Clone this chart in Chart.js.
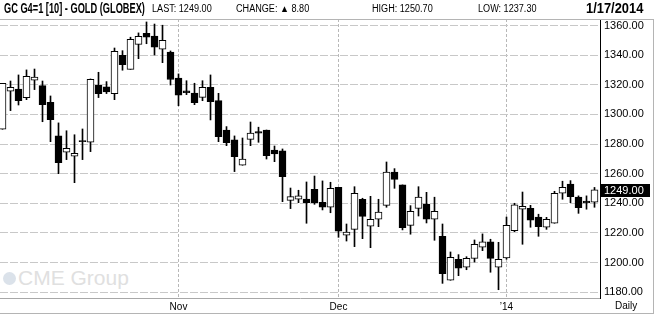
<!DOCTYPE html>
<html><head><meta charset="utf-8">
<script src="https://cdn.jsdelivr.net/npm/chart.js@4.4.1/dist/chart.umd.min.js"></script>
<style>
html,body{margin:0;padding:0;background:#fff;}
#wrap{position:relative;width:654px;height:314px;overflow:hidden;font-family:"Liberation Sans",Arial,sans-serif;background:#fff;}
#c{position:absolute;left:0;top:0;}
.h{position:absolute;top:3px;font-size:10px;line-height:12px;color:#000;white-space:nowrap;transform:scaleX(0.91);transform-origin:0 0;}
.hb{font-weight:bold;font-size:14px;top:1px;line-height:15px;}
.ln{position:absolute;background:#b4b4b4;}
#wm{position:absolute;left:18px;top:266px;font-size:21px;line-height:24px;color:#e0e0e0;white-space:nowrap;}
#logo{position:absolute;left:3px;top:272px;width:13px;height:13px;border-radius:50%;background:#dbe2ea;}
#daily{position:absolute;left:615px;top:300px;font-size:10px;line-height:12px;color:#000;}
</style></head>
<body>
<div id="wrap">
  <div id="logo"></div>
  <div id="wm">CME Group</div>
  <canvas id="c" width="654" height="314"></canvas>
  <div class="h hb" style="left:4px;transform:scaleX(0.66)">GC G4=1 [10] - GOLD (GLOBEX)</div>
  <div class="h" style="left:152px">LAST: 1249.00</div>
  <div class="h" style="left:236px">CHANGE: &#9650; 8.80</div>
  <div class="h" style="left:372px">HIGH: 1250.70</div>
  <div class="h" style="left:478px">LOW: 1237.30</div>
  <div class="h hb" style="left:586px;transform:scaleX(0.92)">1/17/2014</div>
  <div class="ln" style="left:0;top:19px;width:654px;height:1px"></div>
  <div class="ln" style="left:0;top:313px;width:654px;height:1px"></div>
  <div class="ln" style="left:653px;top:19px;width:1px;height:295px"></div>
  <div id="daily">Daily</div>
</div>
<script>
const dates = [
 "2013-10-02","2013-10-03","2013-10-04","2013-10-07","2013-10-08","2013-10-09","2013-10-10","2013-10-11",
 "2013-10-14","2013-10-15","2013-10-16","2013-10-17","2013-10-18","2013-10-21","2013-10-22","2013-10-23",
 "2013-10-24","2013-10-25","2013-10-28","2013-10-29","2013-10-30","2013-10-31",
 "2013-11-01","2013-11-04","2013-11-05","2013-11-06","2013-11-07","2013-11-08","2013-11-11","2013-11-12",
 "2013-11-13","2013-11-14","2013-11-15","2013-11-18","2013-11-19","2013-11-20","2013-11-21","2013-11-22",
 "2013-11-25","2013-11-26","2013-11-27","2013-11-29",
 "2013-12-02","2013-12-03","2013-12-04","2013-12-05","2013-12-06","2013-12-09","2013-12-10","2013-12-11",
 "2013-12-12","2013-12-13","2013-12-16","2013-12-17","2013-12-18","2013-12-19","2013-12-20","2013-12-23",
 "2013-12-24","2013-12-26","2013-12-27","2013-12-30","2013-12-31",
 "2014-01-02","2014-01-03","2014-01-06","2014-01-07","2014-01-08","2014-01-09","2014-01-10","2014-01-13",
 "2014-01-14","2014-01-15","2014-01-16","2014-01-17"
];
const open = [
 1290.0,1315.7,1317.2,1311.4,1323.1,1319.5,1308.2,1285.5,1274.5,1271.8,
 1282.4,1281.2,1319.7,1318.6,1314.1,1340.0,1330.5,1347.4,1354.9,1353.0,
 1344.1,1342.2,1324.5,1315.9,1314.5,1311.6,1318.4,1309.3,1289.5,1282.8,
 1265.7,1283.2,1288.4,1289.5,1276.0,1275.5,1242.0,1242.7,1242.9,1249.5,
 1240.7,1237.3,1250.8,1218.4,1222.4,1242.7,1224.5,1229.2,1238.6,1261.0,
 1252.4,1225.1,1236.6,1239.5,1229.2,1217.7,1188.0,1202.2,1196.8,1202.8,
 1210.3,1213.9,1196.8,1203.0,1221.5,1236.0,1236.6,1230.7,1223.8,1226.5,
 1246.8,1253.0,1244.1,1241.4,1240.7
];
const high = [
 1321.0,1322.6,1326.7,1330.1,1330.7,1322.6,1312.5,1294.3,1289.0,1286.3,
 1290.2,1324.0,1328.5,1322.2,1344.9,1343.1,1352.2,1355.1,1362.5,1361.1,
 1360.3,1342.9,1327.4,1322.8,1321.1,1322.8,1326.7,1314.3,1291.8,1285.5,
 1284.1,1294.9,1291.4,1289.5,1278.7,1276.7,1250.3,1248.8,1254.4,1258.4,
 1255.1,1254.2,1250.8,1226.0,1251.2,1243.4,1244.7,1242.7,1267.9,1263.4,
 1252.4,1238.4,1251.2,1247.4,1244.1,1226.0,1207.1,1205.3,1203.9,1215.2,
 1219.3,1215.7,1213.6,1230.7,1240.0,1247.6,1238.6,1232.6,1230.5,1248.1,
 1254.9,1255.3,1245.0,1245.0,1250.7
];
const low = [
 1290.0,1302.6,1306.4,1310.0,1316.8,1295.1,1281.6,1260.0,1269.5,1253.9,
 1269.5,1274.9,1311.4,1314.1,1310.0,1329.9,1330.5,1337.7,1347.8,1340.2,
 1335.0,1319.9,1305.9,1313.4,1306.6,1309.3,1296.3,1281.6,1278.9,1261.4,
 1265.7,1278.9,1281.2,1269.9,1268.1,1241.1,1236.4,1240.4,1226.5,1239.3,
 1235.5,1233.6,1217.0,1214.5,1210.7,1216.1,1210.0,1224.2,1237.3,1250.1,
 1222.0,1219.1,1231.4,1226.7,1215.0,1185.9,1188.0,1191.1,1195.1,1200.3,
 1208.0,1193.4,1181.6,1202.2,1220.8,1212.3,1223.8,1217.7,1222.4,1226.5,
 1242.7,1240.4,1233.2,1236.0,1237.3
];
const close = [
 1321.0,1318.4,1309.3,1325.8,1325.3,1306.6,1296.5,1267.4,1277.2,1273.8,
 1281.6,1323.8,1314.1,1315.2,1342.7,1333.6,1350.8,1352.8,1352.2,1345.4,
 1350.1,1323.6,1313.0,1314.7,1308.0,1318.4,1308.6,1285.0,1281.0,1271.5,
 1269.9,1287.5,1287.3,1272.2,1273.3,1258.0,1244.5,1245.0,1240.4,1240.4,
 1237.3,1250.1,1221.1,1220.6,1246.8,1231.2,1229.2,1234.1,1261.0,1256.2,
 1223.5,1234.6,1244.1,1229.2,1234.6,1192.4,1203.5,1196.1,1202.8,1212.3,
 1213.9,1202.8,1202.2,1225.1,1238.9,1238.0,1228.5,1224.2,1229.2,1246.8,
 1250.8,1244.5,1237.0,1240.2,1249.0
];
const yTicks = [1180,1190,1200,1210,1220,1230,1240,1250,1260,1270,1280,1290,1300,1310,1320,1330,1340,1350,1360];
const xTickDates = ["2013-11-01","2013-12-02","2014-01-02"];
const xTickLabels = ["Nov","Dec","\u201914"];

const xTickIdx = xTickDates.map(d => dates.indexOf(d));
const lastPrice = close[close.length - 1];

const bodies = dates.map((d, i) => ({x: i, y: [open[i], close[i]]}));
const wicks = dates.map((d, i) => ({x: i, y: [low[i], high[i]]}));
const bodyColors = dates.map((d, i) => close[i] >= open[i] ? '#ffffff' : '#000000');

const lastMarker = {
  id: 'lastMarker',
  afterDraw(chart) {
    const ys = chart.scales.y;
    const py = Math.round(ys.getPixelForValue(lastPrice));
    const ctx = chart.ctx;
    ctx.save();
    ctx.fillStyle = '#000';
    ctx.fillRect(ys.left + 1, py - 6, 49, 13);
    ctx.fillStyle = '#fff';
    ctx.font = '11px "Liberation Sans", Arial, sans-serif';
    ctx.textBaseline = 'middle';
    ctx.textAlign = 'left';
    ctx.fillText(lastPrice.toFixed(2), ys.left + 4, py + 0.5);
    ctx.restore();
  }
};

new Chart(document.getElementById('c'), {
  type: 'bar',
  data: {
    datasets: [
      {label: 'body', data: bodies, backgroundColor: bodyColors, borderColor: '#000', borderWidth: 1,
       borderSkipped: false, barThickness: 7, grouped: false, order: 0},
      {label: 'wick', data: wicks, backgroundColor: '#000', borderWidth: 0,
       barThickness: 1, grouped: false, order: 1}
    ]
  },
  options: {
    responsive: false,
    animation: false,
    devicePixelRatio: 1,
    layout: {padding: {top: 19, left: 0, right: 0, bottom: 0}},
    plugins: {legend: {display: false}, tooltip: {enabled: false}, title: {display: false}},
    scales: {
      x: {
        type: 'linear',
        offset: false,
        min: -0.3125, max: 74.6875,
        afterBuildTicks: s => { s.ticks = xTickIdx.map(v => ({value: v})); },
        afterFit: s => { s.height = 16; },
        ticks: {autoSkip: false, maxRotation: 0, padding: 3, color: '#000',
                font: {family: '"Liberation Sans", Arial, sans-serif', size: 10},
                callback: (v, i) => xTickLabels[i]},
        grid: {color: '#b8b8b8', drawTicks: false, offset: false},
        border: {display: true, color: '#a8a8a8', width: 1, dash: [3, 2]}
      },
      y: {
        type: 'linear',
        position: 'right',
        min: 1176, max: 1364.5,
        afterBuildTicks: s => { s.ticks = yTicks.map(v => ({value: v})); },
        afterFit: s => { s.width = 54; },
        ticks: {padding: 4, color: '#000',
                font: {family: '"Liberation Sans", Arial, sans-serif', size: 11},
                callback: v => Number(v).toFixed(2)},
        grid: {color: '#c8c8c8', drawTicks: false},
        border: {display: true, color: '#000', width: 1, dash: [8, 2]}
      }
    }
  },
  plugins: [lastMarker]
});
</script>
</body></html>
